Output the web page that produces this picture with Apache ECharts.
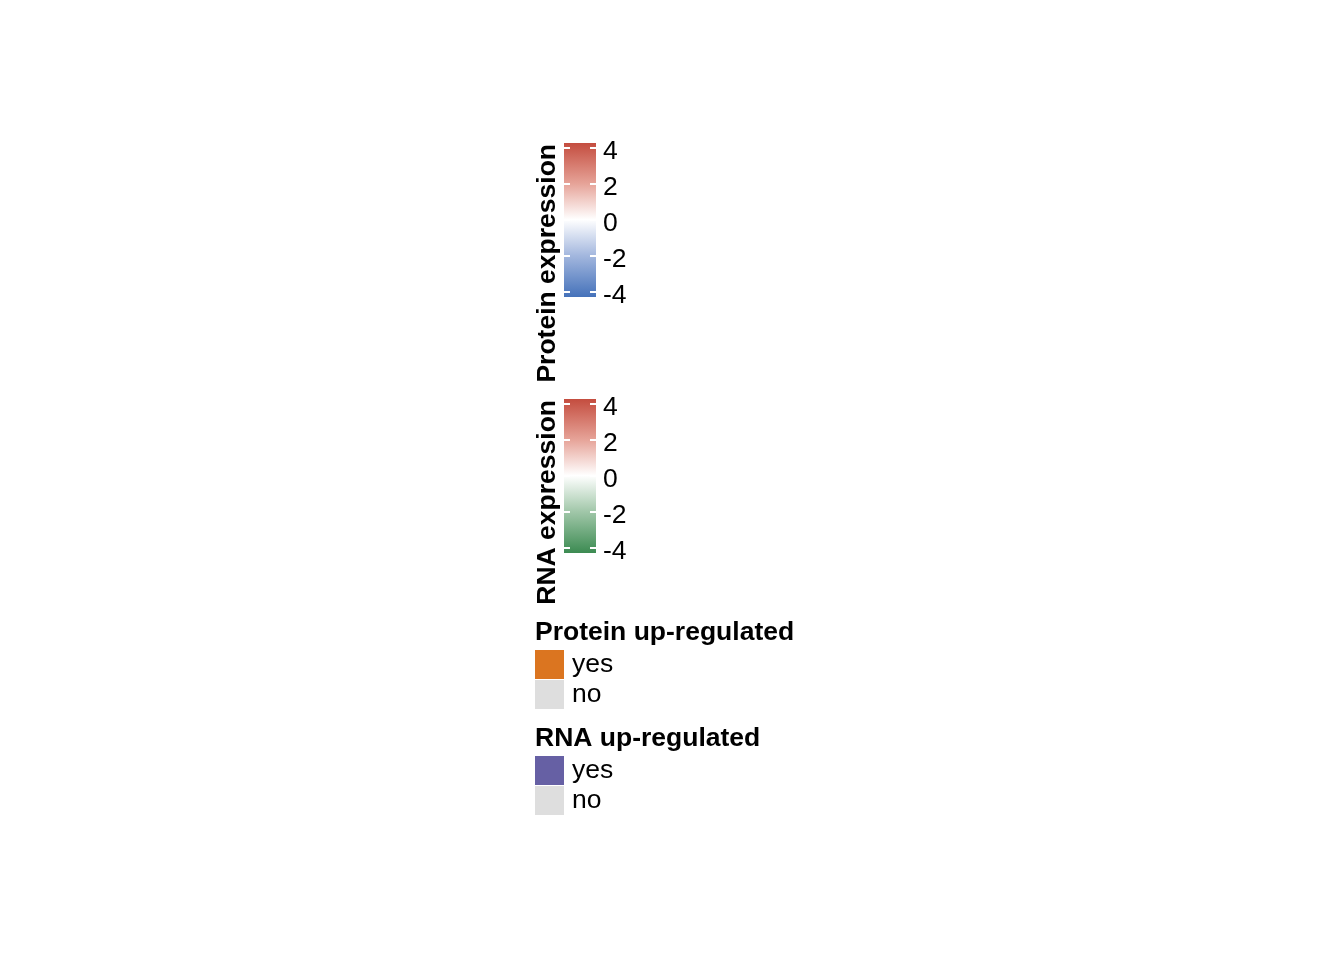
<!DOCTYPE html>
<html>
<head>
<meta charset="utf-8">
<script src="https://cdn.jsdelivr.net/npm/echarts@6/dist/echarts.min.js"></script>
<style>html,body{margin:0;padding:0;background:#fff;}#main{width:1344px;height:960px;}</style>
</head>
<body>
<div id="main"></div>
<script>
// ---- data ----
const tickValues = [-4, -2, 0, 2, 4];
const tickLabels = ['-4', '-2', '0', '2', '4'];
const scaleRange = [-4.3, 4.25];
const protStopValues = [4.25, 2, 0, -2, -4.3];
const protStopColors = ['#C44D3F', '#E6A398', '#FFFFFF', '#A3B7DE', '#4572BA'];
const rnaStopValues = [4.25, 2, 0, -2, -4.3];
const rnaStopColors = ['#C44D3F', '#E6A398', '#FFFFFF', '#A1C7A9', '#3C8B52'];
const barTitles = ['Protein expression', 'RNA expression'];
const discreteTitles = ['Protein up-regulated', 'RNA up-regulated'];
const discreteLevels = ['yes', 'no'];
const protLevelColors = ['#DB7520', '#DEDEDE'];
const rnaLevelColors = ['#6660A4', '#DEDEDE'];

const FONT = 'Liberation Sans, Arial, Helvetica, sans-serif';
const FS = 26.5;

const chart = echarts.init(document.getElementById('main'), null, {renderer: 'canvas'});

function stops(values, colors) {
  const hi = scaleRange[1], lo = scaleRange[0];
  return values.map((v, i) => ({offset: (hi - v) / (hi - lo), color: colors[i]}));
}

function barSeries(idx, values, colors) {
  return {
    type: 'custom',
    xAxisIndex: idx,
    yAxisIndex: idx * 2,
    clip: false,
    silent: true,
    z: 2,
    data: [[0, scaleRange[1], 1, scaleRange[0]]],
    renderItem: function (params, api) {
      const p1 = api.coord([api.value(0), api.value(1)]);
      const p2 = api.coord([api.value(2), api.value(3)]);
      return {
        type: 'rect',
        shape: {x: p1[0], y: p1[1], width: p2[0] - p1[0], height: p2[1] - p1[1]},
        style: {fill: new echarts.graphic.LinearGradient(0, 0, 0, 1, stops(values, colors))}
      };
    }
  };
}

const gridTops = [143, 399];
const grids = gridTops.map(t => ({left: 564, top: t, width: 32, height: 154, containLabel: false}));
const xAxes = gridTops.map((t, i) => ({type: 'value', gridIndex: i, min: 0, max: 1, show: false}));
const yAxes = [];
gridTops.forEach((t, i) => {
  yAxes.push({
    type: 'value', gridIndex: i, position: 'left', min: scaleRange[0], max: scaleRange[1], z: 10,
    axisLine: {show: false}, splitLine: {show: false}, axisLabel: {show: false},
    axisTick: {show: true, inside: true, length: 6, customValues: tickValues, lineStyle: {color: '#ffffff', width: 2}}
  });
  yAxes.push({
    type: 'value', gridIndex: i, position: 'right', min: scaleRange[0], max: scaleRange[1], z: 10,
    axisLine: {show: false}, splitLine: {show: false},
    axisTick: {show: true, inside: true, length: 6, customValues: tickValues, lineStyle: {color: '#ffffff', width: 2}},
    axisLabel: {show: true, customValues: tickValues, margin: 7, color: '#000', fontFamily: FONT, fontSize: FS,
      formatter: v => '{t|' + tickLabels[tickValues.indexOf(Math.round(v))] + '}',
      rich: {t: {fontFamily: FONT, fontSize: FS, color: '#000', padding: [8, 0, 0, 0]}}}
  });
});

const series = [
  barSeries(0, protStopValues, protStopColors),
  barSeries(1, rnaStopValues, rnaStopColors)
];
discreteLevels.forEach(name => series.push({type: 'bar', name: name, xAxisIndex: 0, yAxisIndex: 0, data: [], itemStyle: {opacity: 1}}));

function discreteLegend(top, colors) {
  return {
    left: 535, top: top, orient: 'vertical', padding: 0, itemWidth: 29, itemHeight: 29, itemGap: 1,
    icon: 'rect', selectedMode: false,
    textStyle: {fontFamily: FONT, fontSize: FS, color: '#000', padding: [6, 0, 0, 3]},
    data: discreteLevels.map((n, i) => ({name: n, itemStyle: {color: colors[i], borderWidth: 0, opacity: 1}}))
  };
}

const graphics = [
  {type: 'text', x: 534, y: 144, rotation: Math.PI / 2,
    style: {text: barTitles[0], font: 'bold ' + FS + 'px ' + FONT, fill: '#000', textAlign: 'right', textVerticalAlign: 'top'}},
  {type: 'text', x: 534, y: 400, rotation: Math.PI / 2,
    style: {text: barTitles[1], font: 'bold ' + FS + 'px ' + FONT, fill: '#000', textAlign: 'right', textVerticalAlign: 'top'}},
  {type: 'text', x: 535, y: 633,
    style: {text: discreteTitles[0], font: 'bold ' + FS + 'px ' + FONT, fill: '#000', textAlign: 'left', textVerticalAlign: 'middle'}},
  {type: 'text', x: 535, y: 739,
    style: {text: discreteTitles[1], font: 'bold ' + FS + 'px ' + FONT, fill: '#000', textAlign: 'left', textVerticalAlign: 'middle'}}
];

chart.setOption({
  backgroundColor: '#ffffff',
  animation: false,
  grid: grids,
  xAxis: xAxes,
  yAxis: yAxes,
  series: series,
  legend: [discreteLegend(650, protLevelColors), discreteLegend(756, rnaLevelColors)],
  graphic: graphics
});
</script>
</body>
</html>
